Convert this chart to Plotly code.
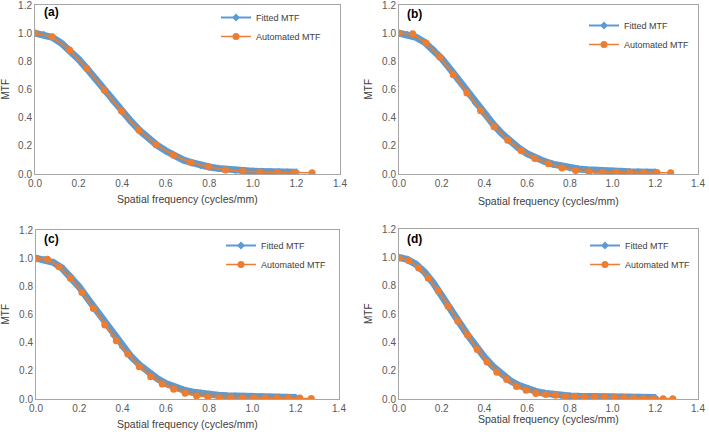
import plotly.graph_objects as go

# ---------------- data ----------------
panel_labels = ["(a)", "(b)", "(c)", "(d)"]
x_title = "Spatial frequency (cycles/mm)"
y_title = "MTF"
fitted_name = "Fitted MTF"
auto_name = "Automated MTF"

fit_x = [0.00, 0.04, 0.08, 0.12, 0.16, 0.20, 0.24, 0.28, 0.32, 0.36, 0.40,
         0.44, 0.48, 0.52, 0.56, 0.60, 0.64, 0.68, 0.72, 0.76, 0.80,
         0.84, 0.88, 0.92, 0.96, 1.00, 1.04, 1.08, 1.12, 1.16, 1.20]

fit_a = [1.00, 0.99, 0.97, 0.93, 0.875, 0.815, 0.745, 0.67, 0.59, 0.515, 0.44,
         0.375, 0.31, 0.255, 0.205, 0.165, 0.13, 0.10, 0.08, 0.062, 0.05,
         0.04, 0.032, 0.027, 0.023, 0.02, 0.018, 0.016, 0.015, 0.014, 0.013]
fit_b = [1.00, 0.99, 0.97, 0.935, 0.885, 0.82, 0.745, 0.665, 0.58, 0.50, 0.425,
         0.355, 0.29, 0.235, 0.185, 0.145, 0.115, 0.09, 0.07, 0.055, 0.044,
         0.036, 0.03, 0.025, 0.022, 0.02, 0.018, 0.016, 0.015, 0.014, 0.013]
fit_c = [1.00, 0.99, 0.97, 0.93, 0.87, 0.795, 0.71, 0.625, 0.535, 0.45, 0.37,
         0.30, 0.24, 0.19, 0.145, 0.11, 0.085, 0.065, 0.05, 0.04, 0.032,
         0.027, 0.023, 0.02, 0.018, 0.016, 0.015, 0.014, 0.013, 0.012, 0.011]
fit_d = [1.00, 0.985, 0.95, 0.895, 0.82, 0.735, 0.64, 0.545, 0.455, 0.37, 0.295,
         0.23, 0.175, 0.13, 0.097, 0.072, 0.054, 0.041, 0.032, 0.026, 0.022,
         0.019, 0.017, 0.016, 0.015, 0.014, 0.013, 0.012, 0.011, 0.010, 0.010]

auto_x_a = [0.000, 0.079, 0.159, 0.238, 0.318, 0.397, 0.477, 0.556, 0.636,
            0.715, 0.795, 0.874, 0.954, 1.033, 1.113, 1.192, 1.272]
auto_a = [1.00, 0.974, 0.88, 0.75, 0.596, 0.447, 0.312, 0.208, 0.133,
          0.083, 0.052, 0.028, 0.019, 0.014, 0.010, 0.010, 0.008]

auto_x_b = [0.000, 0.064, 0.127, 0.191, 0.254, 0.318, 0.382, 0.445, 0.509,
            0.572, 0.636, 0.700, 0.763, 0.827, 0.890, 0.954, 1.018, 1.081,
            1.145, 1.208, 1.272]
auto_b = [1.00, 0.995, 0.93, 0.83, 0.705, 0.575, 0.45, 0.335, 0.24,
          0.165, 0.11, 0.072, 0.043, 0.025, 0.015, 0.012, 0.012, 0.010,
          0.010, 0.010, 0.008]

auto_x_c = [0.000, 0.053, 0.106, 0.159, 0.212, 0.265, 0.318, 0.371, 0.424,
            0.477, 0.530, 0.583, 0.636, 0.689, 0.742, 0.795, 0.848, 0.901,
            0.954, 1.007, 1.060, 1.113, 1.166, 1.219, 1.272]
auto_c = [0.995, 0.993, 0.939, 0.858, 0.757, 0.643, 0.525, 0.414, 0.319,
          0.229, 0.158, 0.106, 0.069, 0.040, 0.021, 0.012, 0.008, 0.008,
          0.008, 0.008, 0.009, 0.009, 0.009, 0.007, 0.004]

auto_x_d = [0.000, 0.046, 0.092, 0.137, 0.183, 0.229, 0.275, 0.321, 0.366,
            0.412, 0.458, 0.504, 0.550, 0.595, 0.641, 0.687, 0.733, 0.779,
            0.824, 0.870, 0.916, 0.962, 1.008, 1.053, 1.099, 1.145, 1.191,
            1.237, 1.282]
auto_d = [0.995, 0.976, 0.924, 0.853, 0.764, 0.657, 0.551, 0.452, 0.350,
          0.262, 0.189, 0.137, 0.088, 0.061, 0.038, 0.031, 0.026, 0.019,
          0.017, 0.014, 0.014, 0.014, 0.012, 0.010, 0.007, 0.005, 0.002,
          0.001, 0.001]

x_tick_vals = [0.0, 0.2, 0.4, 0.6, 0.8, 1.0, 1.2, 1.4]
y_tick_vals = [0.0, 0.2, 0.4, 0.6, 0.8, 1.0, 1.2]

# ---------------- styling / layout ----------------
W, H = 709, 432
BLUE = "#5B9BD5"
ORANGE = "#ED7D31"
CORE = "#8E8E8E"
FONT = "Liberation Sans, Arial, sans-serif"

# plot boxes in pixels: (left, right, top, bottom)
boxes = [(35, 340, 5, 174), (399, 698, 5, 174),
         (36, 339, 230, 399), (399, 698, 229, 399)]

fits = [fit_a, fit_b, fit_c, fit_d]
autos = [(auto_x_a, auto_a), (auto_x_b, auto_b), (auto_x_c, auto_c), (auto_x_d, auto_d)]
legend_names = ["legend", "legend2", "legend3", "legend4"]
legend_px = [(216, 3), (584, 11), (221, 231), (585, 231)]
label_px = [(42, 12), (405, 14), (42, 239), (405, 239)]
xtitle_px = [199, 201, 424, 419]
ytitle_px = [5, 368, 5, 368]

fig = go.Figure()
layout = dict(width=W, height=H,
              margin=dict(l=0, r=0, t=0, b=0, pad=0, autoexpand=False),
              paper_bgcolor="white", plot_bgcolor="white",
              font=dict(family=FONT, size=10, color="#595959"))
annotations = []

for i in range(4):
    n = "" if i == 0 else str(i + 1)
    xa, ya = "x" + n, "y" + n
    L, R, T, B = boxes[i]
    layout["xaxis" + n] = dict(
        domain=[L / W, R / W], range=[0, 1.4], anchor=ya, automargin=False,
        tickvals=x_tick_vals, tickformat=".1f", showgrid=False, zeroline=False,
        showline=True, linecolor="#A6A6A6", linewidth=1, mirror=True,
        ticks="", ticklabeloverflow="allow",
        tickfont=dict(size=10, color="#595959"), fixedrange=True)
    layout["yaxis" + n] = dict(
        domain=[1 - B / H, 1 - T / H], range=[0, 1.2], anchor=xa, automargin=False,
        tickvals=y_tick_vals, tickformat=".1f", showgrid=False, zeroline=False,
        showline=True, linecolor="#A6A6A6", linewidth=1, mirror=True,
        ticks="", ticklabeloverflow="allow",
        tickfont=dict(size=10, color="#595959"), fixedrange=True)

    # fitted band (thick blue) + legend entry + grey core
    fig.add_trace(go.Scatter(x=fit_x, y=fits[i], mode="lines", xaxis=xa, yaxis=ya,
                             line=dict(color=BLUE, width=7), showlegend=False,
                             hoverinfo="skip"))
    fig.add_trace(go.Scatter(x=fit_x, y=fits[i], mode="lines+markers", xaxis=xa, yaxis=ya,
                             name=fitted_name, legend=legend_names[i],
                             line=dict(color=BLUE, width=2),
                             marker=dict(symbol="diamond", size=6, color=BLUE)))
    fig.add_trace(go.Scatter(x=fit_x, y=fits[i], mode="lines", xaxis=xa, yaxis=ya,
                             line=dict(color=CORE, width=3), showlegend=False,
                             hoverinfo="skip"))
    ax, ay = autos[i]
    fig.add_trace(go.Scatter(x=ax, y=ay, mode="lines+markers", xaxis=xa, yaxis=ya,
                             name=auto_name, legend=legend_names[i],
                             line=dict(color=ORANGE, width=1.5),
                             marker=dict(symbol="circle", size=7, color=ORANGE)))

    lx, ly = legend_px[i]
    layout[legend_names[i]] = dict(
        x=lx / W, y=1 - ly / H, xanchor="left", yanchor="top",
        bgcolor="rgba(0,0,0,0)", font=dict(size=9, color="#404040", family=FONT),
        itemwidth=30, tracegroupgap=0)

    px_, py_ = label_px[i]
    annotations.append(dict(text="<b>" + panel_labels[i] + "</b>", xref="paper", yref="paper",
                            x=px_ / W, y=1 - py_ / H, xanchor="left", yanchor="middle",
                            showarrow=False, font=dict(size=12, color="#000000")))
    annotations.append(dict(text=x_title, xref="paper", yref="paper",
                            x=(L + R) / 2 / W, y=1 - xtitle_px[i] / H,
                            xanchor="center", yanchor="middle", showarrow=False,
                            font=dict(size=10.5, color="#404040")))
    annotations.append(dict(text=y_title, xref="paper", yref="paper",
                            x=ytitle_px[i] / W, y=1 - (T + B) / 2 / H,
                            xanchor="center", yanchor="middle", showarrow=False,
                            textangle=-90, font=dict(size=10, color="#404040")))

layout["annotations"] = annotations
fig.update_layout(**layout)
fig.write_html("out.html",
               config={"displayModeBar": False},
               post_script="document.body.style.margin='0px';document.body.style.overflow='hidden';")
